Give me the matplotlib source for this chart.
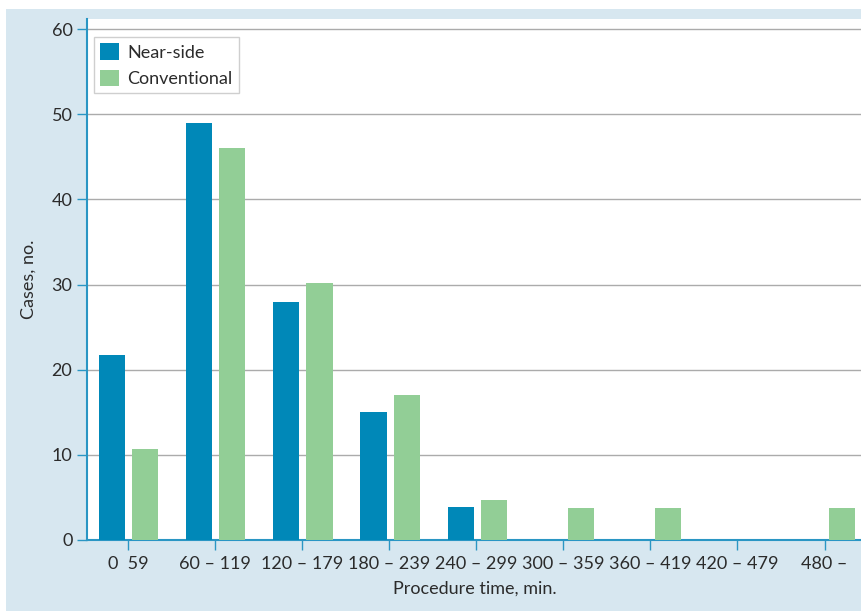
import matplotlib
matplotlib.use("Agg")
import matplotlib.pyplot as plt
import numpy as np
from matplotlib.patches import Rectangle

categories = ["0  59", "60 – 119", "120 – 179", "180 – 239", "240 – 299",
              "300 – 359", "360 – 419", "420 – 479", "480 –"]
near_side = [21.7, 49.0, 27.9, 15.0, 3.9, 0, 0, 0, 0]
conventional = [10.7, 46.0, 30.2, 17.0, 4.7, 3.8, 3.8, 0, 3.8]
yticks = [0, 10, 20, 30, 40, 50, 60]

plt.rcParams['font.family'] = ['Lato', 'DejaVu Sans']
text_color = "#2b2b2b"
axis_color = "#2a96c4"
blue = "#0088b8"
green = "#92ce96"
bg = "#d7e7f0"

fig = plt.figure(figsize=(8.62, 6.11), dpi=100)
fig.add_artist(Rectangle((6/862, 0), 1 - 6/862, (611-9)/611,
                         transform=fig.transFigure, facecolor=bg,
                         edgecolor='none', zorder=-10))

ax = fig.add_axes([87/862, (611-540)/611, 1 - 87/862, (540-19)/611])
ax.set_facecolor("white")

x = np.arange(len(categories))
w = 0.30
off = 0.19
ax.bar(x - off + 0.01, near_side, width=w, color=blue, label="Near-side", zorder=3)
ax.bar(x + off + 0.01, conventional, width=w, color=green, label="Conventional", zorder=3)

ax.set_xlim(-0.47, 8.43)
ax.set_ylim(0, 60 * 521 / 511)
ax.set_yticks(yticks)
ax.set_xticks(x)
ax.set_xticklabels(categories)

ax.yaxis.grid(True, color="#ababab", linewidth=1.0, zorder=1)
ax.set_axisbelow(True)

for s in ["top", "right"]:
    ax.spines[s].set_visible(False)
for s in ["left", "bottom"]:
    ax.spines[s].set_color(axis_color)
    ax.spines[s].set_linewidth(1.5)

ax.tick_params(axis='both', colors=axis_color, labelcolor=text_color,
               labelsize=13, length=7.5, width=1.0)
ax.tick_params(axis='x', pad=4)
ax.tick_params(axis='y', pad=3)

ax.set_xlabel("Procedure time, min.", fontsize=13, color=text_color, labelpad=6)
ax.set_ylabel("Cases, no.", fontsize=13, color=text_color, labelpad=11)

leg = ax.legend(loc="upper left", bbox_to_anchor=(0.009, 0.966), fontsize=13,
                frameon=True, fancybox=False, handlelength=1.05, handleheight=1.05,
                handletextpad=0.45, borderpad=0.35, labelspacing=0.5,
                borderaxespad=0)
leg.get_frame().set_edgecolor("#c4c4c4")
leg.get_frame().set_linewidth(1.0)
for t in leg.get_texts():
    t.set_color(text_color)

fig.savefig("out.png", dpi=100)
